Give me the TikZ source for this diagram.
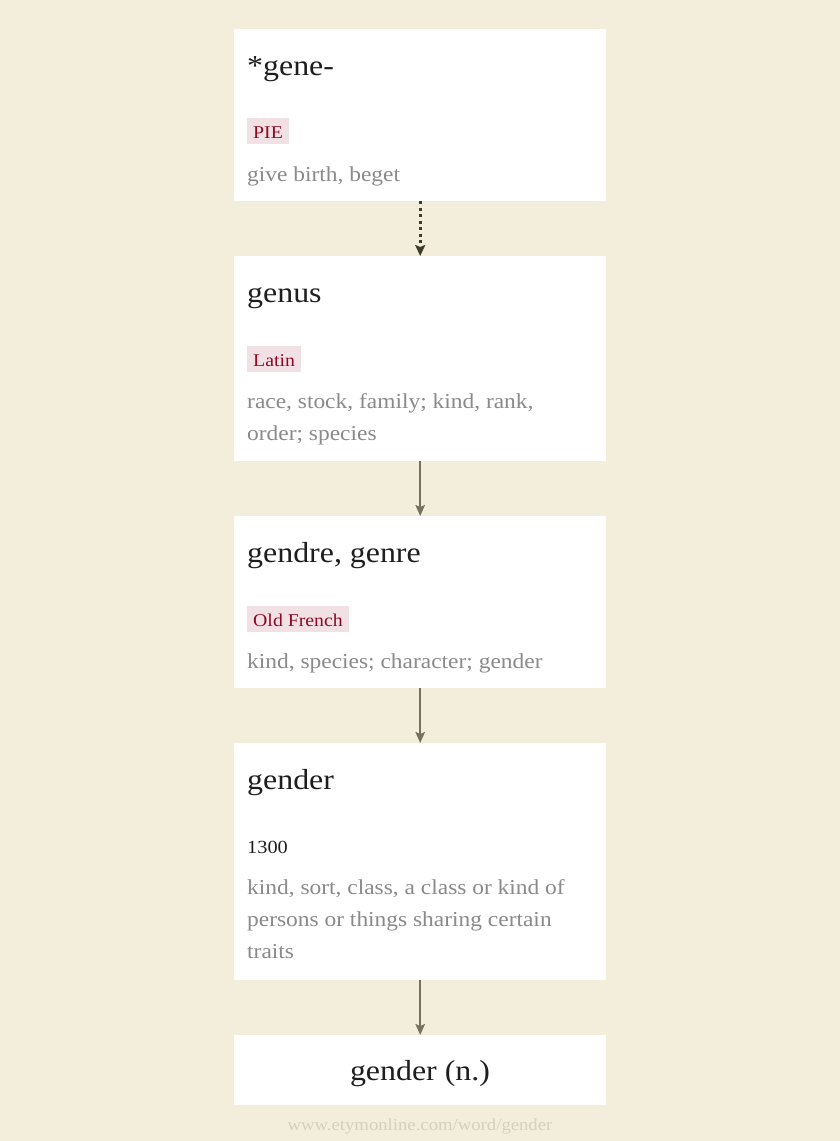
\documentclass[tikz,border=0pt]{standalone}
\usepackage{fontspec}
\setmainfont{Liberation Serif}[FakeStretch=1.1]
\usetikzlibrary{arrows.meta}
\definecolor{bgc}{HTML}{F3EDDB}
\definecolor{headc}{HTML}{1E1E1E}
\definecolor{glossc}{HTML}{8A8A8A}
\definecolor{tagbg}{HTML}{F2E1E4}
\definecolor{tagtx}{HTML}{8B0A26}
\definecolor{arrc}{HTML}{77715F}
\definecolor{dotc}{HTML}{3C3C30}
\definecolor{urlc}{HTML}{D6CFBC}
\tikzset{
  card/.style={fill=white, draw=none, anchor=north west, inner sep=0pt, minimum width=372pt},
  headw/.style={anchor=base west, inner sep=0pt, text=headc, font=\fontsize{29}{32}\selectfont},
  gloss/.style={anchor=base west, inner sep=0pt, text=glossc, font=\fontsize{21.3}{32}\selectfont},
  tagbox/.style={anchor=base west, fill=tagbg, text=tagtx, inner xsep=6pt, inner ysep=0pt, text height=20pt, text depth=6pt, font=\fontsize{18}{20}\selectfont},
  datew/.style={anchor=base west, inner sep=0pt, text=headc, font=\fontsize{18.5}{20}\selectfont},
  link/.style={draw=arrc, line width=1.8pt, -{Stealth[length=11pt, width=9.5pt, inset=2pt]}},
  dotlink/.style={draw=dotc, line width=3pt, dash pattern=on 3pt off 3.5pt, -{Stealth[length=11pt, width=10pt, inset=2pt]}}
}
\begin{document}
\begin{tikzpicture}[x=1pt,y=-1pt]
\fill[bgc] (0,0) rectangle (840,1141);
\useasboundingbox (0,0) rectangle (840,1141);
% cards
\node[card, minimum height=172pt] (b1) at (234,29) {};
\node[card, minimum height=205pt] (b2) at (234,256) {};
\node[card, minimum height=172pt] (b3) at (234,516) {};
\node[card, minimum height=237pt] (b4) at (234,743) {};
\node[card, minimum height=70pt] (b5) at (234,1035) {};
% card 1
\node[headw] (h1) at (247,75) {*gene-};
\node[tagbox] (t1) at (247,138) {PIE};
\node[gloss] (g1) at (247,181) {give birth, beget};
% card 2
\node[headw] (h2) at (247,302) {genus};
\node[tagbox] (t2) at (247,366) {Latin};
\node[gloss] (g2a) at (247,408) {race, stock, family; kind, rank,};
\node[gloss] (g2b) at (247,440) {order; species};
% card 3
\node[headw] (h3) at (247,562) {gendre, genre};
\node[tagbox] (t3) at (247,626) {Old French};
\node[gloss] (g3) at (247,668) {kind, species; character; gender};
% card 4
\node[headw] (h4) at (247,789) {gender};
\node[datew] (d4) at (247,853) {1300};
\node[gloss] (g4a) at (247,894) {kind, sort, class, a class or kind of};
\node[gloss] (g4b) at (247,926) {persons or things sharing certain};
\node[gloss] (g4c) at (247,958) {traits};
% card 5
\node[anchor=base, inner sep=0pt, text=headc, font=\fontsize{29}{32}\selectfont] (h5) at (420,1080) {gender (n.)};
% url
\node[anchor=base, inner sep=0pt, text=urlc, font=\fontsize{17}{18}\selectfont] (url) at (420,1130) {www.etymonline.com/word/gender};
% connectors
\draw[dotlink] (b1.south) -- (b2.north);
\draw[link] (b2.south) -- (b3.north);
\draw[link] (b3.south) -- (b4.north);
\draw[link] (b4.south) -- (b5.north);
\end{tikzpicture}
\end{document}
